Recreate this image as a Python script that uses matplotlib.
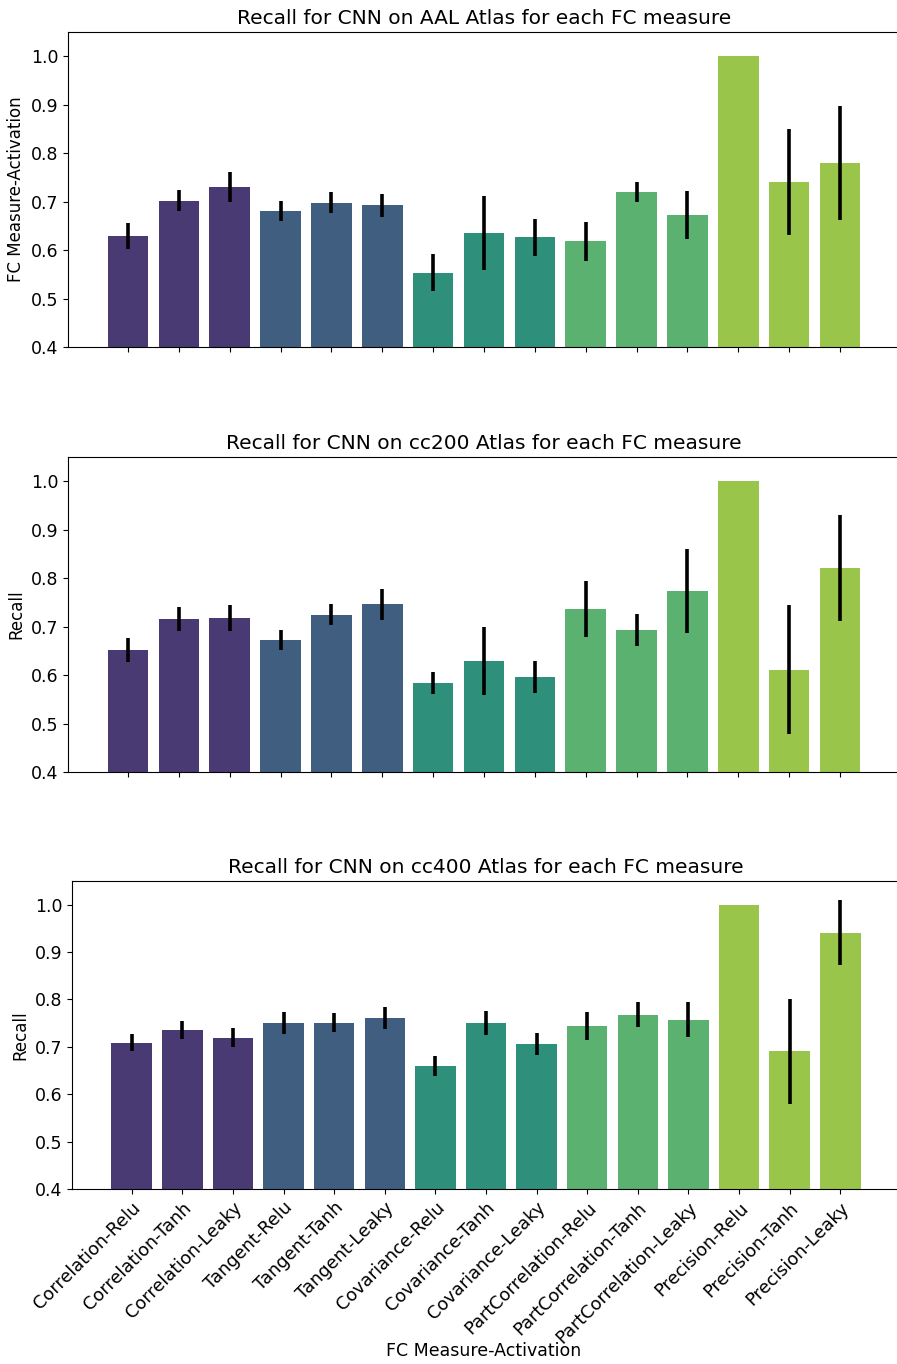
import matplotlib
matplotlib.use("Agg")
import matplotlib.pyplot as plt
import numpy as np

measures = ["Correlation", "Tangent", "Covariance", "PartCorrelation", "Precision"]
activations = ["Relu", "Tanh", "Leaky"]
labels = [f"{m}-{a}" for m in measures for a in activations]

# one colour per FC measure
measure_colors = ["#4a3a73", "#3f5e80", "#2e8f7b", "#5ab170", "#9ac54b"]

aal_recall = [0.629, 0.702, 0.730, 0.680, 0.698, 0.692, 0.553, 0.635, 0.626,
              0.618, 0.720, 0.672, 1.000, 0.740, 0.780]
aal_err = [0.026, 0.021, 0.031, 0.021, 0.022, 0.023, 0.038, 0.076, 0.038,
           0.040, 0.021, 0.050, 0.0, 0.109, 0.118]

cc200_recall = [0.652, 0.716, 0.718, 0.672, 0.725, 0.746, 0.583, 0.629, 0.597,
                0.736, 0.694, 0.773, 1.000, 0.611, 0.821]
cc200_err = [0.025, 0.025, 0.0275, 0.021, 0.021, 0.032, 0.023, 0.071, 0.033,
             0.058, 0.033, 0.087, 0.0, 0.133, 0.109]

cc400_recall = [0.709, 0.735, 0.719, 0.751, 0.751, 0.761, 0.659, 0.750, 0.706,
                0.744, 0.768, 0.757, 1.000, 0.691, 0.941]
cc400_err = [0.018, 0.019, 0.020, 0.023, 0.020, 0.024, 0.021, 0.025, 0.023,
             0.029, 0.026, 0.037, 0.0, 0.111, 0.068]

panels = [
    ("AAL", aal_recall, aal_err, "FC Measure-Activation"),
    ("cc200", cc200_recall, cc200_err, "Recall"),
    ("cc400", cc400_recall, cc400_err, "Recall"),
]

W, H = 897, 1364
fig = plt.figure(figsize=(W / 100, H / 100), dpi=100)

# axes boxes in pixels: left, top, right, bottom
boxes = [(68, 32, 900, 347), (68, 457, 900, 772), (72, 881, 900, 1189)]

colors = [c for c in measure_colors for _ in activations]
x = np.arange(len(labels))

axes = []
for (atlas, vals, errs, ylab), (l, t, r, b) in zip(panels, boxes):
    ax = fig.add_axes([l / W, 1 - b / H, (r - l) / W, (b - t) / H])
    ax.bar(x, vals, width=0.8, color=colors)
    ax.errorbar(x, vals, yerr=errs, fmt="none", ecolor="black",
                elinewidth=2.6, capsize=0)
    ax.set_ylim(0.4, 1.05)
    ax.set_xlim(-1.18, len(labels) - 1 + 1.18)
    ax.set_yticks(np.arange(0.4, 1.01, 0.1))
    ax.tick_params(axis="both", labelsize=12.5)
    ax.set_ylabel(ylab, fontsize=12)
    ax.set_title(f"Recall for CNN on {atlas} Atlas for each FC measure",
                 fontsize=14.5)
    ax.set_xticks(x)
    axes.append(ax)

for ax in axes[:-1]:
    ax.set_xticklabels([])

axes[-1].set_xticklabels(labels, rotation=45, ha="right",
                         rotation_mode="anchor", fontsize=12.8)
fig.text(484 / W, 1 - 1351 / H, "FC Measure-Activation", fontsize=12.5,
         ha="center", va="center")

fig.savefig("out.png", dpi=100)
